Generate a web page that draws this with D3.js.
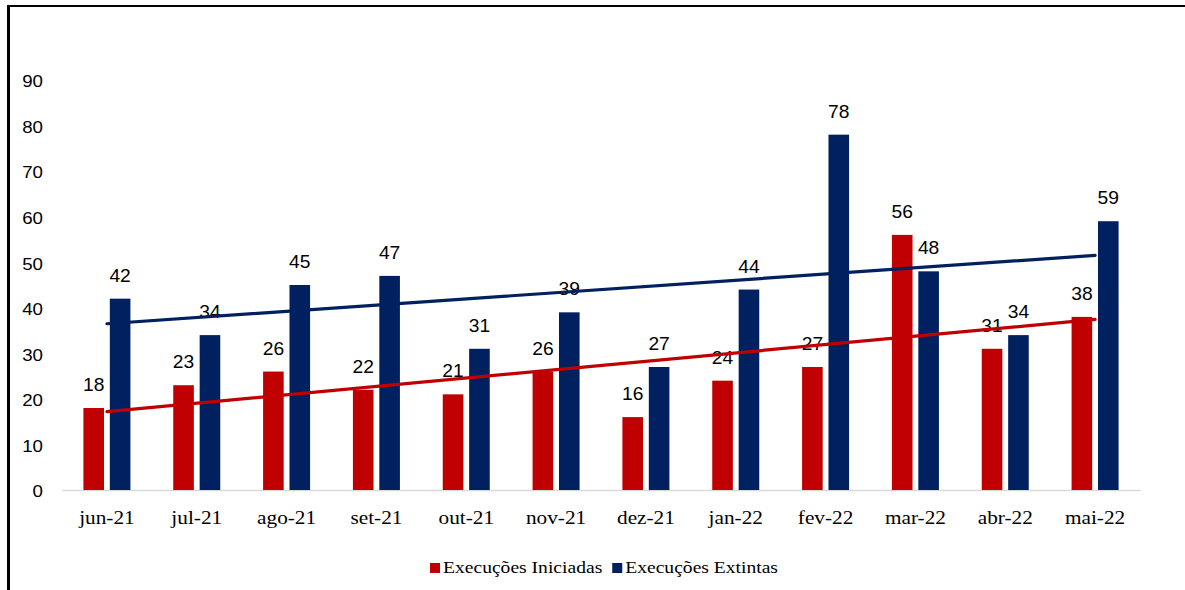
<!DOCTYPE html>
<html>
<head>
<meta charset="utf-8">
<script src="https://cdn.jsdelivr.net/npm/d3@7"></script>
<style>
  html, body { margin: 0; padding: 0; background: #fff; }
  svg { display: block; }
</style>
</head>
<body>
<svg id="chart" width="1185" height="590"></svg>
<script>
// Monthly execution counts
const months = ["jun-21","jul-21","ago-21","set-21","out-21","nov-21","dez-21","jan-22","fev-22","mar-22","abr-22","mai-22"];
const iniciadas = [18, 23, 26, 22, 21, 26, 16, 24, 27, 56, 31, 38];
const extintas  = [42, 34, 45, 47, 31, 39, 27, 44, 78, 48, 34, 59];
const seriesNames = ["Execuções Iniciadas", "Execuções Extintas"];
const seriesColors = ["#c00000", "#002060"];
const yTicks = [0, 10, 20, 30, 40, 50, 60, 70, 80, 90];

const W = 1185, H = 590;
const plot = { left: 62, right: 1140, top: 80, bottom: 490 };
const svg = d3.select("#chart");

// frame lines at top and left
svg.append("line").attr("x1", 8).attr("x2", W).attr("y1", 6).attr("y2", 6)
  .attr("stroke", "#000").attr("stroke-width", 2);
svg.append("line").attr("x1", 8.5).attr("x2", 8.5).attr("y1", 5).attr("y2", H)
  .attr("stroke", "#000").attr("stroke-width", 3);

const x0 = d3.scaleBand().domain(months).range([plot.left, plot.right]).paddingInner(0).paddingOuter(0);
const groupW = 47;
const x1 = d3.scaleBand().domain(seriesNames).range([-groupW / 2, groupW / 2]).paddingInner(0.22);
const y = d3.scaleLinear().domain([0, 90]).range([plot.bottom, plot.top]);

const sansFont = "'Liberation Sans', Arial, sans-serif";
const serifFont = "'Liberation Serif', 'Times New Roman', serif";

// y axis labels only
const yAxis = svg.append("g").attr("transform", `translate(${plot.left},0)`)
  .call(d3.axisLeft(y).tickValues(yTicks).tickSize(0).tickPadding(0));
yAxis.select(".domain").remove();
yAxis.selectAll("text")
  .attr("x", -19 / 1.1)
  .attr("dy", "0.4em")
  .attr("transform", "scale(1.1,1)")
  .attr("font-family", sansFont)
  .attr("font-size", 17)
  .attr("fill", "#000");

// x axis
const xAxis = svg.append("g").attr("transform", `translate(0,${plot.bottom})`)
  .call(d3.axisBottom(x0).tickSize(0).tickSizeOuter(0).tickPadding(21));
xAxis.select(".domain").attr("stroke", "#d9d9d9").attr("stroke-width", 1.6);
xAxis.selectAll("text")
  .attr("transform", "scale(1.15,1)")
  .attr("font-family", serifFont)
  .attr("font-size", 18.5)
  .attr("fill", "#000");

// bars
const rows = months.map((m, i) => ({ month: m, values: [iniciadas[i], extintas[i]] }));
const groups = svg.append("g").selectAll("g").data(rows).join("g")
  .attr("transform", d => `translate(${x0(d.month) + x0.bandwidth() / 2},0)`);

groups.selectAll("rect")
  .data(d => d.values.map((v, k) => ({ name: seriesNames[k], value: v, k })))
  .join("rect")
  .attr("x", d => x1(d.name))
  .attr("width", x1.bandwidth())
  .attr("y", d => y(d.value))
  .attr("height", d => y(0) - y(d.value))
  .attr("fill", d => seriesColors[d.k]);

// linear trend lines
function trend(vals) {
  const n = vals.length;
  const xs = vals.map((_, i) => i + 1);
  const mx = d3.mean(xs), my = d3.mean(vals);
  const sxy = d3.sum(xs, (xv, i) => (xv - mx) * (vals[i] - my));
  const sxx = d3.sum(xs, xv => (xv - mx) ** 2);
  const b = sxy / sxx, a = my - b * mx;
  return [a + b * 1, a + b * n];
}
[iniciadas, extintas].forEach((vals, k) => {
  const [v0, v1] = trend(vals);
  const cx0 = x0(months[0]) + x0.bandwidth() / 2;
  const cx1 = x0(months[months.length - 1]) + x0.bandwidth() / 2;
  svg.append("line")
    .attr("x1", cx0).attr("y1", y(v0))
    .attr("x2", cx1).attr("y2", y(v1))
    .attr("stroke", seriesColors[k])
    .attr("stroke-width", 3.2)
    .attr("stroke-linecap", "round");
});

// value labels
groups.selectAll("g.lbl")
  .data(d => d.values.map((v, k) => ({ name: seriesNames[k], value: v })))
  .join("g")
  .attr("class", "lbl")
  .attr("transform", d => `translate(${x1(d.name) + x1.bandwidth() / 2},${y(d.value) - 17}) scale(1.1,1)`)
  .append("text")
  .attr("text-anchor", "middle")
  .attr("font-family", sansFont)
  .attr("font-size", 17.5)
  .attr("fill", "#000")
  .text(d => d.value);

// legend
const legend = svg.append("g");
let lx = 0;
seriesNames.forEach((name, k) => {
  const item = legend.append("g").attr("transform", `translate(${lx},0)`);
  item.append("rect").attr("x", 0).attr("y", -10).attr("width", 10).attr("height", 10)
    .attr("fill", seriesColors[k]);
  const t = item.append("text")
    .attr("transform", "translate(13,0) scale(1.18,1)")
    .attr("font-family", serifFont)
    .attr("font-size", 16.6)
    .attr("fill", "#000")
    .text(name);
  const tw = t.node().getComputedTextLength() * 1.18;
  lx += 13 + tw + 10;
});
const legendW = lx - 10;
legend.attr("transform", `translate(${604 - legendW / 2},573)`);
</script>
</body>
</html>
